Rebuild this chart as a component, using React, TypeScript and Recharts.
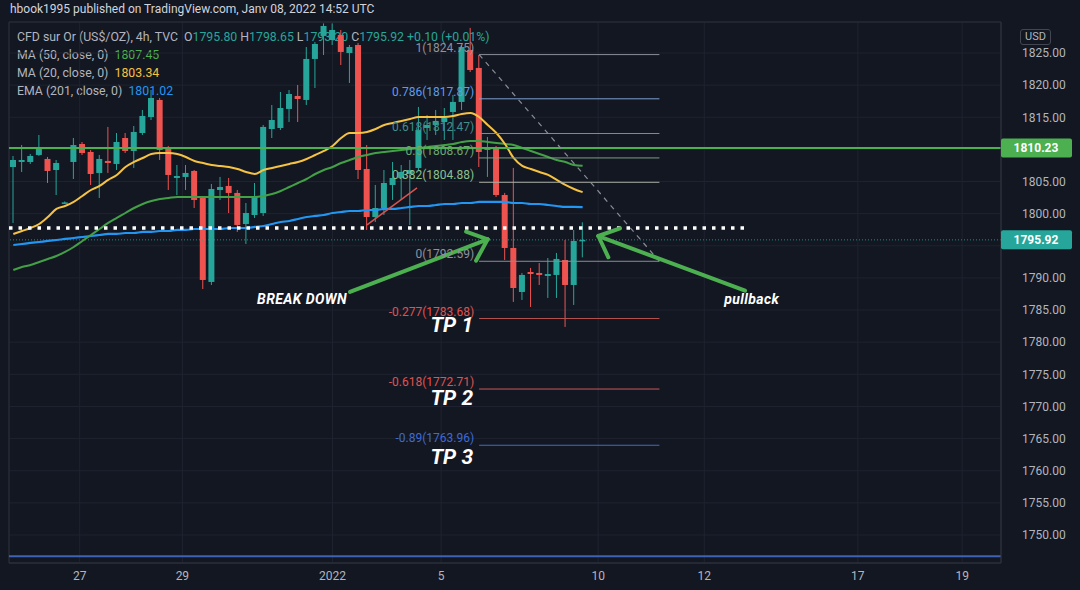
import {
  Bar,
  CartesianGrid,
  ComposedChart,
  Line,
  ReferenceArea,
  ReferenceDot,
  ReferenceLine,
  XAxis,
  YAxis,
} from 'recharts';

// 4h candles, Dec 23 -> Jan 7
const OPEN = [
  1807.26, 1808.04, 1808.04, 1809.13, 1808.51, 1806.79, 1801.66, 1808.04, 1810.84, 1809.6,
  1806.33, 1808.2, 1807.73, 1811.77, 1809.75, 1812.55, 1815.04, 1817.69, 1810.22, 1805.55,
  1805.71, 1806.64, 1802.44, 1789.37, 1803.68, 1804.31, 1803.22, 1798.39, 1799.79, 1800.1,
  1813.17, 1813.33, 1816.29, 1818.31, 1817.69, 1824.07, 1827.65, 1827.02, 1827.8, 1825.0,
  1826.24, 1806.95, 1799.48, 1800.88, 1804.46, 1805.55, 1806.17, 1807.11, 1813.33, 1813.8,
  1814.26, 1815.82, 1817.38, 1825.47, 1822.67, 1809.91, 1810.22, 1802.9, 1794.66, 1787.81,
  1790.92, 1790.77, 1790.3, 1790.46, 1792.79, 1788.9, 1795.8,
];
const HIGH = [
  1808.97, 1810.68, 1809.28, 1812.24, 1808.82, 1808.35, 1801.9, 1811.77, 1811.15, 1809.91,
  1809.13, 1813.49, 1812.55, 1812.55, 1813.64, 1816.13, 1819.24, 1818.0, 1810.53, 1807.57,
  1807.57, 1806.79, 1802.75, 1804.62, 1805.71, 1805.55, 1803.68, 1801.66, 1804.77, 1813.8,
  1816.91, 1818.93, 1819.24, 1820.02, 1825.93, 1826.7, 1829.6, 1829.6, 1828.58, 1826.24,
  1826.56, 1810.68, 1804.46, 1806.79, 1808.04, 1807.57, 1808.35, 1816.6, 1815.35, 1816.13,
  1816.44, 1818.46, 1826.24, 1828.9, 1824.69, 1811.93, 1810.53, 1803.22, 1807.11, 1790.77,
  1791.55, 1792.32, 1793.1, 1793.88, 1795.9, 1797.46, 1798.65,
];
const LOW = [
  1798.55, 1806.48, 1807.73, 1808.97, 1804.77, 1802.9, 1801.5, 1805.39, 1809.13, 1804.46,
  1802.44, 1806.33, 1806.79, 1809.44, 1807.11, 1812.24, 1814.57, 1808.35, 1803.68, 1802.9,
  1803.68, 1800.88, 1788.28, 1788.9, 1802.13, 1800.1, 1797.15, 1795.28, 1799.33, 1799.64,
  1811.77, 1813.02, 1814.26, 1814.26, 1816.91, 1819.55, 1824.69, 1826.24, 1823.13, 1820.33,
  1805.39, 1797.46, 1798.7, 1799.79, 1802.13, 1802.13, 1798.24, 1806.79, 1811.46, 1812.24,
  1811.46, 1811.46, 1816.13, 1822.04, 1807.26, 1805.71, 1802.59, 1792.79, 1786.26, 1786.57,
  1785.48, 1788.9, 1786.88, 1786.88, 1782.37, 1785.79, 1793.2,
];
const CLOSE = [
  1808.35, 1808.35, 1808.97, 1810.22, 1806.64, 1807.88, 1801.75, 1810.68, 1809.44, 1806.17,
  1808.51, 1807.88, 1811.15, 1809.75, 1812.71, 1815.2, 1818.0, 1809.91, 1806.02, 1805.86,
  1806.33, 1802.13, 1789.68, 1803.84, 1804.15, 1803.22, 1798.24, 1800.1, 1802.59, 1813.49,
  1814.57, 1816.44, 1818.62, 1817.84, 1824.07, 1826.4, 1829.2, 1828.58, 1825.16, 1825.93,
  1806.79, 1799.48, 1800.88, 1804.77, 1805.55, 1806.48, 1806.79, 1813.02, 1813.8, 1814.42,
  1814.89, 1817.38, 1825.93, 1822.35, 1809.6, 1810.37, 1802.9, 1794.66, 1788.43, 1790.46,
  1790.61, 1790.46, 1790.61, 1792.95, 1788.9, 1795.75, 1795.92,
];
const MA50 = [
  1791.23, 1791.7, 1792.01, 1792.48, 1792.95, 1793.41, 1794.04, 1794.81, 1795.75, 1796.68,
  1797.61, 1798.55, 1799.33, 1800.1, 1800.88, 1801.5, 1801.97, 1802.28, 1802.44, 1802.59,
  1802.59, 1802.59, 1802.59, 1802.59, 1802.59, 1802.59, 1802.59, 1802.59, 1802.59, 1802.75,
  1803.06, 1803.53, 1804.15, 1804.77, 1805.39, 1806.17, 1806.79, 1807.26, 1807.88, 1808.35,
  1808.82, 1809.13, 1809.44, 1809.6, 1809.75, 1809.91, 1810.06, 1810.22, 1810.37, 1810.53,
  1810.68, 1810.84, 1811.15, 1811.31, 1811.31, 1811.15, 1811.0, 1810.84, 1810.68, 1810.22,
  1809.75, 1809.28, 1808.82, 1808.35, 1808.04, 1807.57, 1807.45,
];
const MA20 = [
  1796.84, 1797.3, 1797.77, 1798.39, 1799.48, 1800.73, 1801.19, 1801.82, 1802.75, 1803.68,
  1804.31, 1805.24, 1806.02, 1807.26, 1808.04, 1808.66, 1809.28, 1809.44, 1809.44, 1809.28,
  1808.82, 1808.2, 1807.88, 1807.57, 1807.42, 1807.26, 1806.95, 1806.48, 1806.17, 1806.79,
  1807.11, 1807.42, 1807.73, 1808.04, 1808.51, 1809.13, 1809.75, 1810.53, 1811.77, 1812.55,
  1812.55, 1812.71, 1813.17, 1813.8, 1814.11, 1814.42, 1814.73, 1815.04, 1815.04, 1815.04,
  1815.04, 1815.2, 1815.51, 1815.66, 1815.04, 1813.8, 1812.55, 1810.84, 1808.66, 1807.42,
  1806.95, 1806.48, 1806.02, 1805.24, 1804.46, 1803.84, 1803.34,
];
const EMA201 = [
  1795.12, 1795.28, 1795.44, 1795.59, 1795.75, 1795.9, 1796.06, 1796.21, 1796.37, 1796.52,
  1796.68, 1796.84, 1796.84, 1796.99, 1796.99, 1797.15, 1797.15, 1797.3, 1797.3, 1797.46,
  1797.46, 1797.61, 1797.61, 1797.61, 1797.61, 1797.77, 1797.77, 1797.77, 1797.93, 1798.08,
  1798.39, 1798.7, 1798.86, 1799.17, 1799.48, 1799.64, 1799.79, 1800.1, 1800.26, 1800.41,
  1800.41, 1800.57, 1800.57, 1800.73, 1800.73, 1800.88, 1801.04, 1801.19, 1801.19, 1801.35,
  1801.5, 1801.5, 1801.66, 1801.66, 1801.82, 1801.82, 1801.82, 1801.82, 1801.66, 1801.66,
  1801.5, 1801.5, 1801.35, 1801.19, 1801.04, 1801.04, 1801.02,
];

const SLOTS = 115; // bars incl. empty future space
const DATE_TICKS = [7.7, 19.6, 37, 49.6, 67.8, 80.1, 97.9, 110];
const DATE_LABELS = ['27', '29', '2022', '5', '10', '12', '17', '19'];
const PRICE_TICKS = [1750, 1755, 1760, 1765, 1770, 1775, 1780, 1785, 1790, 1795, 1800, 1805, 1810, 1815, 1820, 1825];
const HIDDEN_PRICE_TICKS = [1795, 1810]; // covered by the price tags

const FIB_RATIOS = ['1', '0.786', '0.618', '0.5', '0.382', '0', '-0.277', '-0.618', '-0.89'];
const FIB_PRICES = [1824.75, 1817.87, 1812.47, 1808.67, 1804.88, 1792.59, 1783.68, 1772.71, 1763.96];
const FIB_FROM = 54;
const FIB_TO = 74.9;

const SUPPORT = 1810.23;
const LAST = 1795.92;
const BREAK_LEVEL = 1797.77;
const LOW_LINE = 1746.7;

const TP_LABELS = ['TP 1', 'TP 2', 'TP 3'];
const TP_PRICES = [1781.59, 1770.23, 1761.05];

// arrows: [tail, tip, head1, head2] as {x: bar index, y: price}
const ARROW_BREAK = [
  { x: 39.03, y: 1787.81 }, { x: 54.99, y: 1796.01 }, { x: 52.48, y: 1797.19 }, { x: 53.64, y: 1792.68 },
];
const ARROW_PULL = [
  { x: 84.83, y: 1788.01 }, { x: 67.82, y: 1796.52 }, { x: 70.34, y: 1797.72 }, { x: 68.98, y: 1793.21 },
];
const TREND_RED = [{ x: 41.0, y: 1798.24 }, { x: 46.8, y: 1804.0 }];

const BG = '#131722';
const GRID = '#1f2330';
const BORDER = '#2a2e39';
const UP = '#26a69a';
const DOWN = '#ef5350';
const TEXT = '#b2b5be';
const FIB_LINE = ['#8a8d96', '#7d9fcf', '#5c9a9a', '#7c9f80', '#a8aea3', '#8a8d96', '#b5524f', '#cc5a58', '#4468c8'];
const FIB_TEXT = ['#8f929b', '#5d9cec', '#3f8f8a', '#6ea870', '#8cc08e', '#8f929b', '#e0524f', '#e0524f', '#3e6ad6'];

const rows = Array.from({ length: SLOTS }, (_, i) => ({
  i,
  o: OPEN[i],
  h: HIGH[i],
  l: LOW[i],
  c: CLOSE[i],
  ma50: MA50[i],
  ma20: MA20[i],
  ema: EMA201[i],
}));

function Candle(props: any) {
  const { x, y, width, height } = props;
  const d = props.payload ?? props;
  if (d == null || d.h == null) return null;
  const k = height / (d.h - d.l || 1);
  const yo = y + (d.h - d.o) * k;
  const yc = y + (d.h - d.c) * k;
  const color = d.c >= d.o ? UP : DOWN;
  const mid = x + width / 2;
  return (
    <g>
      <line x1={mid} x2={mid} y1={y} y2={y + height} stroke={color} strokeWidth={1} />
      <rect x={x} y={Math.min(yo, yc)} width={width} height={Math.max(1.5, Math.abs(yc - yo))} fill={color} />
    </g>
  );
}

const note =
  (label: string, fill: string, size: number, anchor: 'start' | 'middle' | 'end', dx = 0, dy = 0, bold = false, italic = false) =>
  (p: any) => (
    <text
      x={p.cx + dx}
      y={p.cy + dy}
      fill={fill}
      fontSize={size}
      textAnchor={anchor}
      fontWeight={bold ? 700 : 400}
      fontStyle={italic ? 'italic' : 'normal'}
      letterSpacing={bold && size < 16 ? 0.4 : 0}
    >
      {label}
    </text>
  );

const priceTag = (label: string, fill: string) => (p: any) => (
  <g>
    <rect x={p.cx} y={p.cy - 9.5} width={71} height={19} rx={2} fill={fill} />
    <text x={p.cx + 35} y={p.cy + 4.5} fill="#ffffff" fontSize={12} fontWeight={700} textAnchor="middle">
      {label}
    </text>
  </g>
);

function arrowLines(pts: { x: number; y: number }[], key: string) {
  const [tail, tip, h1, h2] = pts;
  return [
    [tail, tip],
    [h1, tip],
    [h2, tip],
  ].map((seg, j) => (
    <ReferenceLine
      key={`${key}-${j}`}
      xAxisId="n"
      segment={seg}
      stroke="#4caf50"
      strokeWidth={4}
      strokeLinecap="round"
    />
  ));
}

export default function App() {
  return (
    <div
      style={{
        position: 'fixed',
        left: 0,
        top: 0,
        width: 1080,
        height: 590,
        background: BG,
        fontFamily: 'Roboto, sans-serif',
        overflow: 'hidden',
      }}
    >
      <div style={{ position: 'absolute', left: 10, top: 1, fontSize: 12, lineHeight: '17px', color: '#d1d4dc' }}>
        hbook1995 published on TradingView.com, Janv 08, 2022 14:52 UTC
      </div>

      <div style={{ position: 'absolute', left: 17, top: 28, fontSize: 12.3, lineHeight: '18px', color: TEXT, whiteSpace: 'pre' }}>
        <div>
          CFD sur Or (US$/OZ), 4h, TVC{'  '}O<span style={{ color: UP }}>1795.80</span> H
          <span style={{ color: UP }}>1798.65</span> L<span style={{ color: UP }}>1793.20</span> C
          <span style={{ color: UP }}>1795.92</span> <span style={{ color: UP }}>+0.10 (+0.01%)</span>
        </div>
        <div>
          MA (50, close, 0){'  '}<span style={{ color: '#4caf50' }}>1807.45</span>
        </div>
        <div>
          MA (20, close, 0){'  '}<span style={{ color: '#f5c242' }}>1803.34</span>
        </div>
        <div>
          EMA (201, close, 0){'  '}<span style={{ color: '#2196f3' }}>1801.02</span>
        </div>
      </div>

      <div
        style={{
          position: 'absolute',
          left: 1020,
          top: 29,
          width: 29,
          height: 14,
          border: `1px solid #434651`,
          borderRadius: 3,
          fontSize: 11,
          lineHeight: '14px',
          textAlign: 'center',
          color: TEXT,
        }}
      >
        USD
      </div>

      <div style={{ position: 'absolute', left: 0, top: 0 }}>
        <ComposedChart width={1080} height={590} data={rows} margin={{ top: 22, right: 0, bottom: 0, left: 9 }}>
          <CartesianGrid xAxisId="n" stroke={GRID} />
          <XAxis xAxisId="c" dataKey="i" orientation="top" hide />
          <XAxis
            xAxisId="n"
            type="number"
            dataKey="i"
            domain={[-0.5, SLOTS - 0.5]}
            allowDataOverflow
            ticks={DATE_TICKS}
            tickFormatter={(v: number) => DATE_LABELS[DATE_TICKS.indexOf(v)] ?? ''}
            tickLine={false}
            axisLine={{ stroke: BORDER }}
            tick={{ fill: TEXT, fontSize: 12 }}
            height={27}
          />
          <YAxis
            orientation="right"
            domain={[1745.64, 1829.82]}
            allowDataOverflow
            ticks={PRICE_TICKS}
            tickFormatter={(v: number) => (HIDDEN_PRICE_TICKS.includes(v) ? '' : v.toFixed(2))}
            tickLine={false}
            tickMargin={15}
            axisLine={{ stroke: BORDER }}
            tick={{ fill: TEXT, fontSize: 12 }}
            width={79}
          />
          <ReferenceArea
            xAxisId="n"
            x1={-0.5}
            x2={SLOTS - 0.5}
            y1={1745.64}
            y2={1829.82}
            fill="none"
            stroke={BORDER}
          />

          <ReferenceLine xAxisId="n" y={LOW_LINE} stroke="#3f62b5" strokeWidth={2} />
          <ReferenceLine xAxisId="n" y={LAST} stroke={UP} strokeOpacity={0.8} strokeDasharray="1 2" />

          <Bar
            xAxisId="c"
            dataKey={(d: any) => (d.h == null ? null : [d.l, d.h])}
            barSize={6}
            shape={<Candle />}
            isAnimationActive={false}
          />
          <Line xAxisId="c" type="monotone" dataKey="ema" stroke="#2196f3" strokeWidth={2.2} dot={false} isAnimationActive={false} />
          <Line xAxisId="c" type="monotone" dataKey="ma50" stroke="#43a047" strokeWidth={2} dot={false} isAnimationActive={false} />
          <Line xAxisId="c" type="monotone" dataKey="ma20" stroke="#f5c242" strokeWidth={2} dot={false} isAnimationActive={false} />

          <ReferenceLine xAxisId="n" y={SUPPORT} stroke="#4caf50" strokeWidth={2} />
          <ReferenceLine
            xAxisId="n"
            segment={[{ x: -0.5, y: BREAK_LEVEL }, { x: 85.2, y: BREAK_LEVEL }]}
            stroke="#ffffff"
            strokeWidth={3.5}
            strokeDasharray="3.5 6"
          />
          <ReferenceLine xAxisId="n" segment={TREND_RED} stroke="#d9534f" strokeWidth={1.5} />

          {FIB_PRICES.map((p, k) => (
            <ReferenceLine
              key={`fib-${k}`}
              xAxisId="n"
              segment={[{ x: FIB_FROM, y: p }, { x: FIB_TO, y: p }]}
              stroke={FIB_LINE[k]}
              strokeWidth={1}
            />
          ))}
          <ReferenceLine
            xAxisId="n"
            segment={[{ x: FIB_FROM, y: FIB_PRICES[0] }, { x: FIB_TO, y: FIB_PRICES[5] }]}
            stroke="#8a8d96"
            strokeWidth={1.2}
            strokeDasharray="5 5"
          />
          {FIB_PRICES.map((p, k) => (
            <ReferenceDot
              key={`fibl-${k}`}
              xAxisId="n"
              x={FIB_FROM}
              y={p}
              r={0}
              shape={note(`${FIB_RATIOS[k]}(${p.toFixed(2)})`, FIB_TEXT[k], 12, 'end', -5, -3)}
            />
          ))}
          {TP_PRICES.map((p, k) => (
            <ReferenceDot
              key={`tp-${k}`}
              xAxisId="n"
              x={53.3}
              y={p}
              r={0}
              shape={note(TP_LABELS[k], '#ffffff', 21, 'end', 0, 0, true, true)}
            />
          ))}

          {arrowLines(ARROW_BREAK, 'ab')}
          {arrowLines(ARROW_PULL, 'ap')}
          <ReferenceDot
            xAxisId="n"
            x={33.47}
            y={1786.0}
            r={0}
            shape={note('BREAK DOWN', '#ffffff', 14, 'middle', 0, 0, true, true)}
          />
          <ReferenceDot
            xAxisId="n"
            x={85.6}
            y={1785.9}
            r={0}
            shape={note('pullback', '#ffffff', 14, 'middle', 0, 0, true, true)}
          />

          <ReferenceDot xAxisId="n" x={SLOTS - 0.5} y={SUPPORT} r={0} ifOverflow="visible" shape={priceTag(SUPPORT.toFixed(2), '#4caf50')} />
          <ReferenceDot xAxisId="n" x={SLOTS - 0.5} y={LAST} r={0} ifOverflow="visible" shape={priceTag(LAST.toFixed(2), UP)} />
        </ComposedChart>
      </div>
    </div>
  );
}
